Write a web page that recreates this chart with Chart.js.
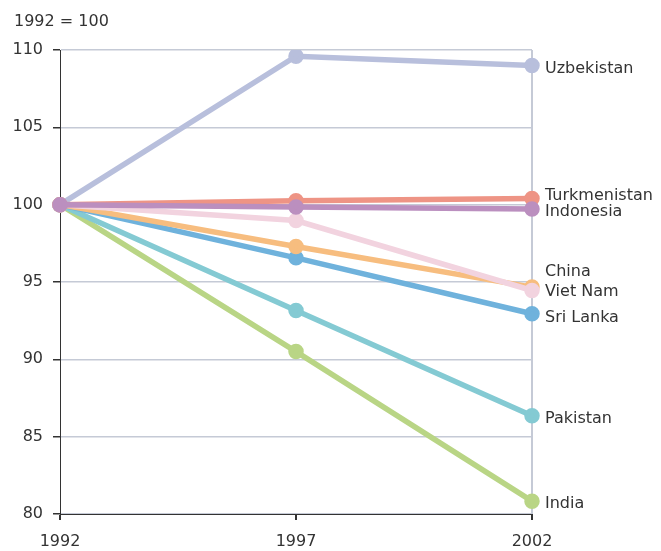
<!DOCTYPE html>
<html><head><meta charset="utf-8">
<script src="https://cdn.jsdelivr.net/npm/chart.js@4/dist/chart.umd.min.js"></script>
<style>html,body{margin:0;padding:0;background:#fff;}canvas{display:block;}</style>
</head><body>
<canvas id="c" width="661" height="551"></canvas>
<script>
const years = ['1992', '1997', '2002'];
const uzbekistan   = [100, 109.6, 109.0];
const turkmenistan = [100, 100.26, 100.4];
const indonesia    = [100, 99.85, 99.72];
const vietNam      = [100, 98.97, 94.45];
const china        = [100, 97.3, 94.67];
const sriLanka     = [100, 96.56, 92.95];
const pakistan     = [100, 93.16, 86.35];
const india        = [100, 90.5, 80.83];
const yTicks = [80, 85, 90, 95, 100, 105, 110];
const unitLabel = '1992 = 100';

const FONT = 'DejaVu Sans';
const series = [
  {label:'Indonesia', data:indonesia, color:'#bb8fbf', dy:3},
  {label:'Turkmenistan', data:turkmenistan, color:'#ee9485', dy:-3},
  {label:'Uzbekistan', data:uzbekistan, color:'#b8bfdc', dy:3},
  {label:'Viet Nam', data:vietNam, color:'#f2d3df', dy:1},
  {label:'China', data:china, color:'#f7bd7f', dy:-15},
  {label:'Sri Lanka', data:sriLanka, color:'#6fb2dc', dy:4},
  {label:'Pakistan', data:pakistan, color:'#84cad3', dy:3},
  {label:'India', data:india, color:'#b9d585', dy:3}
];

const endLabels = {
  id:'endLabels',
  afterDatasetsDraw(chart){
    const ctx = chart.ctx;
    ctx.save();
    ctx.font = '16px "' + FONT + '"';
    ctx.fillStyle = '#333';
    ctx.textAlign = 'left';
    ctx.textBaseline = 'middle';
    chart.data.datasets.forEach((ds, i) => {
      const meta = chart.getDatasetMeta(i);
      const pt = meta.data[meta.data.length - 1];
      ctx.fillText(ds.label, pt.x + 13, pt.y + series[i].dy);
    });
    ctx.fillText(unitLabel, 14, 22);
    ctx.restore();
  }
};

new Chart(document.getElementById('c'), {
  type:'line',
  data:{
    labels: years,
    datasets: series.map(s => ({
      label: s.label, data: s.data,
      borderColor: s.color, backgroundColor: s.color,
      pointBackgroundColor: s.color, pointBorderColor: s.color,
      borderWidth: 5.5, pointRadius: 5, pointHoverRadius: 5,
      tension: 0, fill: false
    }))
  },
  options:{
    responsive:false, animation:false,
    layout:{padding:{left:0, right:129, top:50, bottom:0}},
    plugins:{legend:{display:false}, tooltip:{enabled:false}, title:{display:false}},
    scales:{
      x:{
        offset:false,
        afterFit(s){ s.height = 37; },
        grid:{
          color: c => c.index === 2 ? '#c5cad6' : 'rgba(0,0,0,0)',
          lineWidth: 2,
          tickColor:'#333', tickLength:6, drawTicks:true
        },
        border:{color:'#333', width:1},
        ticks:{font:{family:FONT, size:16}, color:'#333', padding:12, maxRotation:0}
      },
      y:{
        min:80, max:110,
        afterFit(s){ s.width = 60; },
        afterBuildTicks(s){ s.ticks = yTicks.map(v => ({value:v})); },
        grid:{color:'#c5cad6', lineWidth:1.5, tickColor:'#333', tickLength:7},
        border:{color:'#333', width:1},
        ticks:{font:{family:FONT, size:16}, color:'#333', padding:10}
      }
    }
  },
  plugins:[endLabels]
});
</script>
</body></html>
